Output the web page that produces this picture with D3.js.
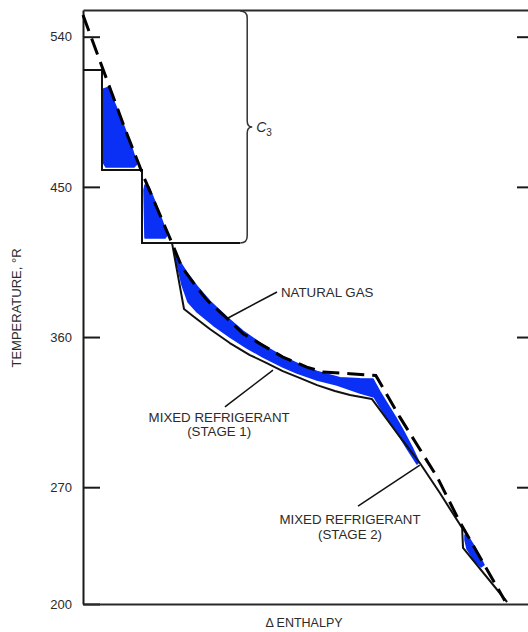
<!DOCTYPE html>
<html>
<head>
<meta charset="utf-8">
<script src="https://cdn.jsdelivr.net/npm/d3@7"></script>
<style>
  body { margin: 0; background: #fff; }
  text { font-family: Arial, "Liberation Sans", Helvetica, sans-serif; fill: #2b2b2b; }
</style>
</head>
<body>
<svg id="chart" width="528" height="632"></svg>
<script>
// Temperature axis ticks (°R)
const tempTicks = [540, 450, 360, 270, 200];
const sideTicks = [540, 450, 360, 270];

// Natural gas cooling curve (Δ enthalpy %, temperature °R)
const gasEnthalpy = [0, 9.4, 13.5, 20.2, 22.2, 25.2, 27.9, 32.4, 36.0, 40.4, 44.9, 50.3, 53.9, 60.0, 65.8, 71.2, 79.6, 84.7, 94.8];
const gasTemp     = [553, 485, 457, 415, 402, 391, 382, 371, 362, 355, 348, 342, 339, 338, 337, 312, 276, 249, 202];

// Propane (C3) pre-cooling levels
const c3Enthalpy = [0, 4.27, 4.27, 13.26, 13.26, 35.3];
const c3Temp     = [520, 520, 460.1, 460.1, 416.4, 416.4];

// Mixed refrigerant curve, stage 1 then stage 2
const mrEnthalpy = [20.0, 22.7, 24.7, 28.5, 33.0, 37.5, 41.3, 44.9, 48.8, 52.6, 56.6, 60.0, 64.9, 67.4, 71.2, 75.7, 80.2, 85.2, 85.4, 95.3];
const mrTemp     = [416.4, 376.8, 372.6, 364.8, 356.4, 349.2, 344.4, 339.6, 335.4, 331.2, 327.7, 325.3, 322.9, 313.9, 300.1, 284.5, 266.5, 245.5, 233.6, 201.2];

// Temperature-difference areas between gas and refrigerant ([Δ enthalpy, °R])
const gapC3High = [[4.49, 508.6], [5.62, 509.6], [8.31, 492.5], [10.56, 476.9], [12.13, 463.7], [11.46, 461.9], [5.17, 461.9], [4.49, 464.9]];
const gapC3Low  = [[13.93, 451.1], [14.83, 449.9], [16.63, 437.9], [17.98, 428.3], [18.88, 421.1], [18.43, 419.3], [13.93, 419.3], [13.71, 448.1]];
const gapStage1 = [
  [20.45, 412.2], [21.35, 407.0], [23.37, 398.4], [25.62, 390.4], [28.54, 381.4], [32.36, 371.8],
  [35.96, 363.6], [40.45, 355.2], [44.94, 348.2], [48.76, 343.4], [52.58, 339.4], [57.75, 335.6],
  [62.25, 335.0], [65.17, 334.8], [66.74, 327.1], [68.54, 319.3], [70.34, 311.5], [72.13, 303.1],
  [73.93, 294.1], [75.51, 285.1],
  [75.06, 283.9], [73.03, 292.3], [70.79, 301.9], [68.54, 310.9], [66.74, 318.1], [65.39, 324.1],
  [62.25, 326.5], [57.08, 331.3], [52.58, 334.2], [48.09, 338.4], [44.94, 342.0], [40.45, 348.0],
  [36.85, 353.4], [33.03, 360.0], [29.21, 367.2], [25.62, 375.0], [23.60, 381.0], [22.25, 391.2],
  [21.35, 401.4], [20.67, 407.4]
];
const gapStage2 = [[85.84, 241.4], [86.74, 239.6], [87.87, 234.8], [88.99, 229.4], [90.11, 223.4], [89.44, 222.2], [87.87, 226.4], [86.29, 233.0], [85.84, 238.4]];

const svg = d3.select("#chart");

const x = d3.scaleLinear().domain([0, 100]).range([83, 528]);
const y = d3.scaleLinear().domain([200, 556]).range([604, 10]);

// Frame: left axis with inward ticks and labels
const leftAxis = d3.axisLeft(y).tickValues(tempTicks).tickSizeInner(-17).tickSizeOuter(0).tickPadding(11)
  .tickFormat(d3.format("d"));
const gl = svg.append("g").attr("transform", `translate(${x(0)},0)`).call(leftAxis);
gl.select(".domain").attr("stroke", "#1a1a1a").attr("stroke-width", 2);
gl.selectAll(".tick line").attr("stroke", "#1a1a1a").attr("stroke-width", 2);
gl.selectAll(".tick text").attr("font-size", 13).attr("fill", "#333")
  .style("font-family", "Arial, 'Liberation Sans', sans-serif");

// Right side inward ticks
const rightAxis = d3.axisRight(y).tickValues(sideTicks).tickSizeInner(-11).tickSizeOuter(0).tickFormat("");
const gr = svg.append("g").attr("transform", `translate(${x(100)},0)`).call(rightAxis);
gr.select(".domain").remove();
gr.selectAll(".tick line").attr("stroke", "#1a1a1a").attr("stroke-width", 2);

// Top and bottom rules
const topAxis = d3.axisTop(x).tickValues([]).tickSizeOuter(0);
svg.append("g").attr("transform", `translate(0,${y(556)})`).call(topAxis)
  .select(".domain").attr("stroke", "#2a2a2a").attr("stroke-width", 2);
const bottomAxis = d3.axisBottom(x).tickValues([]).tickSizeOuter(0);
svg.append("g").attr("transform", `translate(0,${y(200)})`).call(bottomAxis)
  .select(".domain").attr("stroke", "#2a2a2a").attr("stroke-width", 2.2);

// Axis titles
svg.append("text")
  .attr("transform", `translate(21,308) rotate(-90)`)
  .attr("text-anchor", "middle").attr("font-size", 13)
  .text("TEMPERATURE, °R");
svg.append("text")
  .attr("x", 304).attr("y", 627)
  .attr("text-anchor", "middle").attr("font-size", 12.5)
  .text("Δ ENTHALPY");

// Shaded temperature-difference areas
const area = d3.line().x(d => x(d[0])).y(d => y(d[1])).curve(d3.curveLinearClosed);
svg.append("g").selectAll("path")
  .data([gapC3High, gapC3Low, gapStage1, gapStage2])
  .join("path")
  .attr("d", area)
  .attr("fill", "#0a2ff5")
  .attr("stroke", "#0a2ff5")
  .attr("stroke-width", 1.5)
  .attr("stroke-linejoin", "round");

const line = d3.line().x(d => x(d[0])).y(d => y(d[1]));

// Propane levels
svg.append("path")
  .attr("d", line(d3.zip(c3Enthalpy, c3Temp)))
  .attr("fill", "none").attr("stroke", "#111").attr("stroke-width", 2);

// Mixed refrigerant curve
svg.append("path")
  .attr("d", line(d3.zip(mrEnthalpy, mrTemp)))
  .attr("fill", "none").attr("stroke", "#111").attr("stroke-width", 2)
  .attr("stroke-linejoin", "round");

// Natural gas curve (dashed)
svg.append("path")
  .attr("d", line(d3.zip(gasEnthalpy, gasTemp)))
  .attr("fill", "none").attr("stroke", "#000").attr("stroke-width", 3)
  .attr("stroke-dasharray", "17 8");

// Brace marking the C3 range
const bx = x(36.9), yt = y(556) + 1, yb = y(416.4), ym = (yt + yb) / 2;
svg.append("path")
  .attr("d", `M${bx - 7},${yt} Q${bx},${yt} ${bx},${yt + 7} L${bx},${ym - 6} Q${bx},${ym} ${bx + 5},${ym}` +
             ` Q${bx},${ym} ${bx},${ym + 6} L${bx},${yb - 7} Q${bx},${yb} ${bx - 7},${yb}`)
  .attr("fill", "none").attr("stroke", "#333").attr("stroke-width", 1.5);
const c3 = svg.append("text").attr("x", bx + 9).attr("y", ym + 5).attr("font-size", 14);
c3.append("tspan").attr("font-style", "italic").text("C");
c3.append("tspan").attr("font-size", 10).attr("dy", 4).text("3");

// Callouts
const leaders = [
  [[43.6, 387.0], [32.6, 371.4]],
  [[31.9, 318.1], [42.7, 340.2]],
  [[61.8, 258.7], [75.7, 283.2]]
];
svg.append("g").selectAll("line").data(leaders).join("line")
  .attr("x1", d => x(d[0][0])).attr("y1", d => y(d[0][1]))
  .attr("x2", d => x(d[1][0])).attr("y2", d => y(d[1][1]))
  .attr("stroke", "#111").attr("stroke-width", 1.5);

svg.append("text").attr("x", x(44.5)).attr("y", y(384.0)).attr("font-size", 13.3).text("NATURAL GAS");

const labels = [
  { h: 30.6, t: 309.1, lines: ["MIXED REFRIGERANT", "(STAGE 1)"] },
  { h: 60.0, t: 247.7, lines: ["MIXED REFRIGERANT", "(STAGE 2)"] }
];
labels.forEach(l => {
  const t = svg.append("text").attr("text-anchor", "middle").attr("font-size", 13.3);
  l.lines.forEach((s, i) => t.append("tspan").attr("x", x(l.h)).attr("y", y(l.t) + i * 14.5).text(s));
});
</script>
</body>
</html>
